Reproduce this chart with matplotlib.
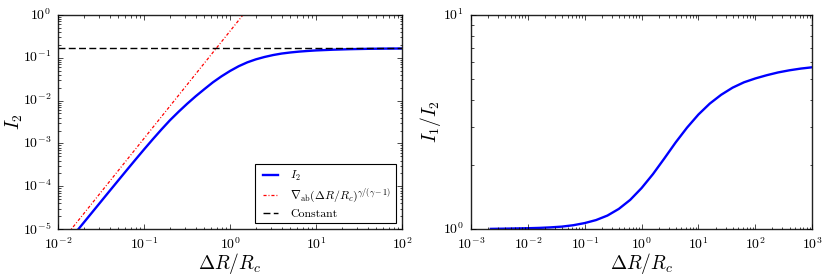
import matplotlib
matplotlib.use("Agg")
import matplotlib.pyplot as plt

# left panel: I_2 vs dR/Rc
x_i2 = [0.01413, 0.01585, 0.01995, 0.02512, 0.03162, 0.03981, 0.05012, 0.0631,
        0.07943, 0.1, 0.1259, 0.1585, 0.1995, 0.2512, 0.3162, 0.3981, 0.5012,
        0.631, 0.7943, 1.0, 1.259, 1.585, 1.995, 2.512, 3.162, 3.981, 5.012,
        6.31, 7.943, 10.0, 15.85, 25.12, 39.81, 63.1, 100.0]
y_i2 = [6.3e-6, 8.32e-6, 1.459e-5, 2.564e-5, 4.508e-5, 7.925e-5, 1.390e-4,
        2.432e-4, 4.236e-4, 7.328e-4, 1.253e-3, 2.109e-3, 3.475e-3, 5.470e-3,
        8.414e-3, 1.262e-2, 1.841e-2, 2.661e-2, 3.673e-2, 4.898e-2, 6.310e-2,
        7.762e-2, 9.120e-2, 0.1035, 0.1148, 0.1245, 0.1318, 0.1380, 0.1429,
        0.1472, 0.1531, 0.1574, 0.1603, 0.1622, 0.1633]

# power law nabla_ab (dR/Rc)^(gamma/(gamma-1)), two end points
x_pow = [0.01, 2.0]
y_pow = [4.2e-6, 2.36]

const_val = 0.165

# right panel: I_1/I_2
x_ratio = [0.002239, 0.003981, 0.00631, 0.01, 0.01585, 0.02512, 0.03981,
           0.0631, 0.1, 0.1585, 0.2512, 0.3981, 0.631, 1.0, 1.585, 2.512,
           3.981, 6.31, 10.0, 15.85, 25.12, 39.81, 63.1, 100.0, 158.5, 251.2,
           398.1, 631.0, 1000.0]
y_ratio = [1.0046, 1.0069, 1.0093, 1.0116, 1.0151, 1.0209, 1.0292, 1.0447,
           1.0690, 1.1041, 1.1588, 1.2445, 1.3709, 1.5560, 1.8072, 2.1380,
           2.5410, 2.9785, 3.4277, 3.8548, 4.2364, 4.5709, 4.8417, 5.0466,
           5.2240, 5.3827, 5.5081, 5.6105, 5.6885]

plt.style.use('classic')
plt.rcParams['mathtext.fontset'] = 'cm'
plt.rcParams['font.family'] = 'serif'
plt.rcParams['font.serif'] = ['cmr10', 'DejaVu Serif']
plt.rcParams['axes.formatter.use_mathtext'] = True
plt.rcParams['axes.unicode_minus'] = False
plt.rcParams['lines.scale_dashes'] = False
for a in ['xtick', 'ytick']:
    plt.rcParams[a + '.major.size'] = 3.5
    plt.rcParams[a + '.minor.size'] = 1.8
    plt.rcParams[a + '.labelsize'] = 10
    plt.rcParams[a + '.major.pad'] = 5

fig = plt.figure(figsize=(8.3, 2.77), dpi=100, facecolor='white')
ax1 = fig.add_axes([0.0702, 0.1722, 0.4141, 0.7747])
ax2 = fig.add_axes([0.5673, 0.1722, 0.4113, 0.7747])

ax1.plot(x_i2, y_i2, color='b', lw=1.7, label=r'$I_2$')
ax1.plot(x_pow, y_pow, color='r', lw=0.9, linestyle=(0, (2.2, 1.4, 0.7, 1.4)),
         label=r'$\nabla_{\rm ab}(\Delta R/R_c)^{\gamma/(\gamma-1)}$')
ax1.axhline(const_val, color='k', lw=1.0, linestyle=(0, (5, 2.4)),
            label='Constant')
ax1.set_xscale('log')
ax1.set_yscale('log')
ax1.set_xlim(1e-2, 1e2)
ax1.set_ylim(1e-5, 1)
ax1.set_xlabel(r'$\Delta R/R_c$', fontsize=14, labelpad=-0.5)
ax1.set_ylabel(r'$I_2$', fontsize=14, labelpad=-1.5)
leg = ax1.legend(loc='lower right', fontsize=8.5, handlelength=1.9,
                 borderaxespad=0.5, numpoints=2, handletextpad=0.7,
                 labelspacing=0.3, borderpad=0.4)
leg.get_frame().set_linewidth(0.8)

ax2.plot(x_ratio, y_ratio, color='b', lw=1.7)
ax2.set_xscale('log')
ax2.set_yscale('log')
ax2.set_xlim(1e-3, 1e3)
ax2.set_ylim(1, 10)
ax2.set_xlabel(r'$\Delta R/R_c$', fontsize=14, labelpad=-0.5)
ax2.set_ylabel(r'$I_1/I_2$', fontsize=14, labelpad=0)

for ax in (ax1, ax2):
    for s in ax.spines.values():
        s.set_linewidth(1.0)
        s.set_color('#222222')

fig.savefig('out.png', dpi=100, facecolor='white')
